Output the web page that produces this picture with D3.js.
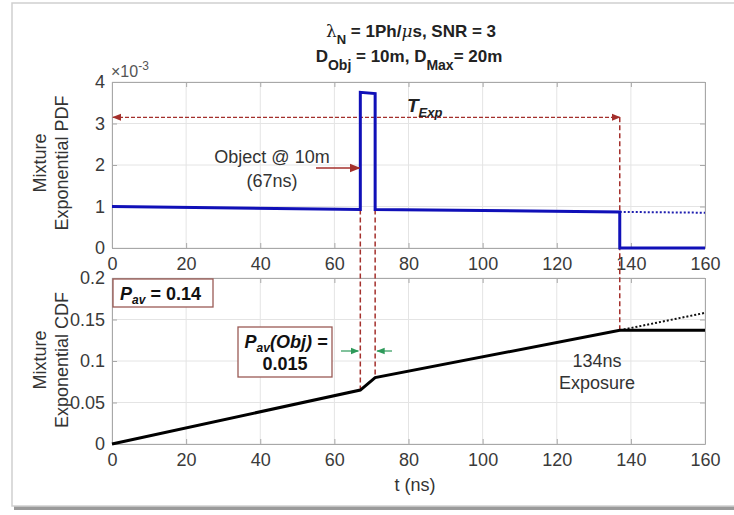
<!DOCTYPE html>
<html>
<head>
<meta charset="utf-8">
<script src="https://cdn.jsdelivr.net/npm/d3@7"></script>
<style>
  body { margin:0; background:#fff; }
  text { font-family: "Liberation Sans", Arial, sans-serif; }
</style>
</head>
<body>
<svg id="chart" width="734" height="515"></svg>
<script>
// PDF (units of 1e-3) vs time in ns
var pdfT = [0, 67, 67, 71, 71, 137, 137, 160];
var pdfV = [1.0, 0.93, 3.75, 3.72, 0.93, 0.87, 0, 0];
var pdfDotT = [137, 160];
var pdfDotV = [0.87, 0.85];
// CDF
var cdfT = [0, 67, 71, 137, 160];
var cdfV = [0, 0.065, 0.080, 0.137, 0.137];
var cdfDotT = [137, 160];
var cdfDotV = [0.137, 0.158];

var xTicks = [0, 20, 40, 60, 80, 100, 120, 140, 160];
var pdfTicks = [0, 1, 2, 3, 4];
var cdfTicks = [0, 0.05, 0.1, 0.15, 0.2];
var cdfTickLabels = ['0', '0.05', '0.1', '0.15', '0.2'];

var tObj = 67, tObjEnd = 71, tExp = 137, tExpArrowY = 3.15;

var conf = {
    left: 112, right: 705,
    top1: 82, bot1: 248,
    top2: 278, bot2: 444,
    red: '#a4302c',
    green: '#2e9a5a',
    grid: '#e4e4e4',
    frame: '#a8a8a8',
    tickColor: '#3a3a3a'
};

var svg = d3.select('#chart');

// drop shadow frame round the figure
svg.append('rect').attr('x', 14).attr('y', 6).attr('width', 740).attr('height', 504)
    .attr('fill', '#9a9a9a');
svg.append('rect').attr('x', 12).attr('y', 3).attr('width', 740).attr('height', 503)
    .attr('fill', '#fff').attr('stroke', '#cfcfcf').attr('stroke-width', 1.5);

var defs = svg.append('defs');
var marker = function(id, color){
    defs.append('marker')
        .attr('id', id)
        .attr('viewBox', '0 0 10 10')
        .attr('refX', 9).attr('refY', 5)
        .attr('markerWidth', 7).attr('markerHeight', 7)
        .attr('orient', 'auto-start-reverse')
        .append('path').attr('d', 'M0,1 L10,5 L0,9 Z').attr('fill', color);
};
marker('arrRed', conf.red);
marker('arrGreen', conf.green);

var x = d3.scaleLinear().domain([0, 160]).range([conf.left, conf.right]);
var y1 = d3.scaleLinear().domain([0, 4]).range([conf.bot1, conf.top1]);
var y2 = d3.scaleLinear().domain([0, 0.2]).range([conf.bot2, conf.top2]);

var drawPanel = function(y, top, bot, yTicks, yFmt){
    var g = svg.append('g');
    // grid
    g.selectAll('.gx').data(xTicks).enter().append('line')
        .attr('x1', function(d){ return x(d); }).attr('x2', function(d){ return x(d); })
        .attr('y1', top).attr('y2', bot)
        .attr('stroke', conf.grid).attr('stroke-width', 1);
    g.selectAll('.gy').data(yTicks).enter().append('line')
        .attr('x1', conf.left).attr('x2', conf.right)
        .attr('y1', function(d){ return y(d); }).attr('y2', function(d){ return y(d); })
        .attr('stroke', conf.grid).attr('stroke-width', 1);
    // axes with ticks inward
    g.append('g').attr('transform', 'translate(0,' + bot + ')')
        .call(d3.axisBottom(x).tickValues(xTicks).tickSizeInner(-5).tickSizeOuter(0).tickPadding(9));
    g.append('g').attr('transform', 'translate(0,' + top + ')')
        .call(d3.axisTop(x).tickValues(xTicks).tickSizeInner(-5).tickSizeOuter(0).tickFormat(''));
    g.append('g').attr('transform', 'translate(' + conf.left + ',0)')
        .call(d3.axisLeft(y).tickValues(yTicks).tickSizeInner(-5).tickSizeOuter(0).tickPadding(7).tickFormat(yFmt));
    g.append('g').attr('transform', 'translate(' + conf.right + ',0)')
        .call(d3.axisRight(y).tickValues(yTicks).tickSizeInner(-5).tickSizeOuter(0).tickFormat(''));
    g.selectAll('.domain').attr('stroke', conf.frame);
    g.selectAll('.tick line').attr('stroke', conf.frame);
    g.selectAll('.tick text').attr('fill', conf.tickColor).style('font-size', '18px')
        .style('font-family', '"Liberation Sans", Arial, sans-serif');
    return g;
};

drawPanel(y1, conf.top1, conf.bot1, pdfTicks, function(d){ return d; });
drawPanel(y2, conf.top2, conf.bot2, cdfTicks, function(d, i){ return cdfTickLabels[i]; });

// exponent label
var ex = svg.append('text').attr('x', conf.left - 1).attr('y', 77)
    .attr('fill', '#555').style('font-size', '16px');
ex.append('tspan').text('\u00d710');
ex.append('tspan').attr('dy', -7).style('font-size', '12px').text('-3');

// y labels
var ylab = function(cy, lines){
    lines.forEach(function(s, i){
        svg.append('text')
            .attr('transform', 'translate(' + (46 + i*22) + ',' + cy + ') rotate(-90)')
            .attr('text-anchor', 'middle').attr('fill', '#333')
            .style('font-size', '18px').text(s);
    });
};
ylab(163, ['Mixture', 'Exponential PDF']);
ylab(360, ['Mixture', 'Exponential CDF']);

svg.append('text').attr('x', 415).attr('y', 491).attr('text-anchor', 'middle')
    .attr('fill', '#333').style('font-size', '18px').text('t (ns)');

// title
var t1 = svg.append('text').attr('x', 411).attr('y', 37).attr('text-anchor', 'middle')
    .attr('fill', '#222').style('font-size', '17px').style('font-weight', 'bold');
t1.append('tspan').style('font-weight', 'normal').style('font-family', '"DejaVu Serif", serif').text('\u03bb');
t1.append('tspan').attr('dy', 7).style('font-size', '13px').text('N');
t1.append('tspan').attr('dy', -7).text(' = 1Ph/');
t1.append('tspan').style('font-style', 'italic').style('font-weight', 'normal').style('font-family', '"DejaVu Serif", serif').text('\u03bc');
t1.append('tspan').text('s, SNR = 3');
var t2 = svg.append('text').attr('x', 409).attr('y', 62).attr('text-anchor', 'middle')
    .attr('fill', '#222').style('font-size', '17px').style('font-weight', 'bold');
t2.append('tspan').text('D');
t2.append('tspan').attr('dy', 8).style('font-size', '14px').text('Obj');
t2.append('tspan').attr('dy', -8).text(' = 10m, D');
t2.append('tspan').attr('dy', 8).style('font-size', '14px').text('Max');
t2.append('tspan').attr('dy', -8).text('= 20m');

// dashed red verticals
var dash = function(t, ya, yb){
    svg.append('line').attr('x1', x(t)).attr('x2', x(t)).attr('y1', ya).attr('y2', yb)
        .attr('stroke', conf.red).attr('stroke-width', 1.5).attr('stroke-dasharray', '5,3');
};
dash(tObj, y1(0.93), y2(0.065));
dash(tObjEnd, y1(0.93), y2(0.080));
dash(tExp, y1(tExpArrowY), y2(0.137));

// T_Exp arrow
svg.append('line').attr('x1', x(0) + 1).attr('x2', x(tExp))
    .attr('y1', y1(tExpArrowY)).attr('y2', y1(tExpArrowY))
    .attr('stroke', conf.red).attr('stroke-width', 1.3).attr('stroke-dasharray', '4,2')
    .attr('marker-start', 'url(#arrRed)').attr('marker-end', 'url(#arrRed)');
var te = svg.append('text').attr('x', 407).attr('y', 112).attr('fill', '#222')
    .style('font-size', '19px').style('font-weight', 'bold').style('font-style', 'italic');
te.append('tspan').text('T');
te.append('tspan').attr('dy', 5).style('font-size', '13px').text('Exp');

// PDF lines
var line1 = d3.line().x(function(d){ return x(d[0]); }).y(function(d){ return y1(d[1]); });
svg.append('path').datum(d3.zip(pdfDotT, pdfDotV)).attr('d', line1)
    .attr('fill', 'none').attr('stroke', '#2020b0').attr('stroke-width', 2).attr('stroke-dasharray', '2,2');
svg.append('path').datum(d3.zip(pdfT, pdfV)).attr('d', line1)
    .attr('fill', 'none').attr('stroke', '#1010b8').attr('stroke-width', 3);

// CDF lines
var line2 = d3.line().x(function(d){ return x(d[0]); }).y(function(d){ return y2(d[1]); });
svg.append('path').datum(d3.zip(cdfDotT, cdfDotV)).attr('d', line2)
    .attr('fill', 'none').attr('stroke', '#111').attr('stroke-width', 2).attr('stroke-dasharray', '2,2');
svg.append('path').datum(d3.zip(cdfT, cdfV)).attr('d', line2)
    .attr('fill', 'none').attr('stroke', '#000').attr('stroke-width', 3);

// Object annotation
svg.append('text').attr('x', 272).attr('y', 163).attr('text-anchor', 'middle')
    .attr('fill', '#333').style('font-size', '18px').text('Object @ 10m');
svg.append('text').attr('x', 272).attr('y', 187).attr('text-anchor', 'middle')
    .attr('fill', '#333').style('font-size', '18px').text('(67ns)');
svg.append('line').attr('x1', 316).attr('x2', x(tObj) - 1).attr('y1', 168).attr('y2', 168)
    .attr('stroke', conf.red).attr('stroke-width', 1.5).attr('marker-end', 'url(#arrRed)');

// Pav boxes
svg.append('rect').attr('x', conf.left + 1).attr('y', 279).attr('width', 100).attr('height', 28)
    .attr('fill', '#fff').attr('stroke', '#9a5a55').attr('stroke-width', 1.3);
var pa = svg.append('text').attr('x', 120).attr('y', 300).attr('fill', '#111')
    .style('font-size', '18px').style('font-weight', 'bold');
pa.append('tspan').style('font-style', 'italic').text('P');
pa.append('tspan').attr('dy', 4).style('font-size', '12px').style('font-style', 'italic').text('av');
pa.append('tspan').attr('dy', -4).text(' = 0.14');

svg.append('rect').attr('x', 238).attr('y', 327).attr('width', 94).attr('height', 50)
    .attr('fill', '#fff').attr('stroke', '#9a5a55').attr('stroke-width', 1.3);
var pb = svg.append('text').attr('x', 286).attr('y', 348).attr('text-anchor', 'middle').attr('fill', '#111')
    .style('font-size', '18px').style('font-weight', 'bold').style('font-style', 'italic');
pb.append('tspan').text('P');
pb.append('tspan').attr('dy', 4).style('font-size', '12px').text('av');
pb.append('tspan').attr('dy', -4).text('(Obj) =');
svg.append('text').attr('x', 285).attr('y', 370).attr('text-anchor', 'middle').attr('fill', '#111')
    .style('font-size', '18px').style('font-weight', 'bold').text('0.015');

// green arrows
svg.append('line').attr('x1', 341).attr('x2', x(tObj) - 2).attr('y1', 351).attr('y2', 351)
    .attr('stroke', conf.green).attr('stroke-width', 1.2).attr('marker-end', 'url(#arrGreen)');
svg.append('line').attr('x1', 392).attr('x2', x(tObjEnd) + 2).attr('y1', 351).attr('y2', 351)
    .attr('stroke', conf.green).attr('stroke-width', 1.2).attr('marker-end', 'url(#arrGreen)');

// exposure text
svg.append('text').attr('x', 597).attr('y', 367).attr('text-anchor', 'middle')
    .attr('fill', '#333').style('font-size', '18px').text('134ns');
svg.append('text').attr('x', 597).attr('y', 389).attr('text-anchor', 'middle')
    .attr('fill', '#333').style('font-size', '18px').text('Exposure');
</script>
</body>
</html>
